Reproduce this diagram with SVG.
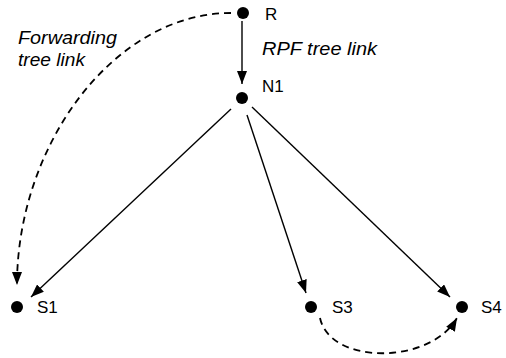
<svg xmlns="http://www.w3.org/2000/svg" width="506" height="358" viewBox="0 0 506 358">
  <style>
    .lbl { font-family: "Liberation Sans", Arial, sans-serif; font-size: 17px; fill: #000; }
    .it { font-style: italic; font-size: 18px; }
    .dot { fill: #000; }
    .link { fill: none; stroke: #000; stroke-width: 1.4; }
    .dash { stroke-dasharray: 7 5; stroke-width: 1.8; }
  </style>
  <defs>
    <marker id="arrow" viewBox="0 0 13 10" refX="13" refY="5" markerWidth="13" markerHeight="10" markerUnits="userSpaceOnUse" orient="auto">
      <path d="M0,0 L13,5 L0,10 Z" fill="#000"/>
    </marker>
  </defs>

  <g id="connectors">
    <line class="link" x1="242" y1="21" x2="242" y2="84" marker-end="url(#arrow)"/>
    <line class="link" x1="231" y1="109" x2="31" y2="297" marker-end="url(#arrow)"/>
    <line class="link" x1="247" y1="115" x2="306" y2="293" marker-end="url(#arrow)"/>
    <line class="link" x1="252" y1="107" x2="450" y2="297" marker-end="url(#arrow)"/>
    <path class="link dash" d="M231,13 C114,13 17,145 17,285" marker-end="url(#arrow)"/>
    <path class="link dash" d="M320,318 C330,365 430,365 457,318" marker-end="url(#arrow)"/>
  </g>

  <g id="node-R">
    <circle class="dot" cx="243" cy="13" r="6"/>
    <text class="lbl" x="265" y="20">R</text>
  </g>
  <g id="node-N1">
    <circle class="dot" cx="242" cy="98" r="6"/>
    <text class="lbl" x="262" y="92">N1</text>
  </g>
  <g id="node-S1">
    <circle class="dot" cx="17" cy="307" r="6"/>
    <text class="lbl" x="37" y="313">S1</text>
  </g>
  <g id="node-S3">
    <circle class="dot" cx="311" cy="307" r="6"/>
    <text class="lbl" x="332" y="313">S3</text>
  </g>
  <g id="node-S4">
    <circle class="dot" cx="462" cy="307" r="6"/>
    <text class="lbl" x="481" y="313">S4</text>
  </g>

  <g id="labels">
    <text class="lbl it" x="262" y="55" textLength="115" lengthAdjust="spacingAndGlyphs">RPF tree link</text>
    <text class="lbl it" x="18" y="44" textLength="99" lengthAdjust="spacingAndGlyphs">Forwarding</text>
    <text class="lbl it" x="18" y="66" textLength="67" lengthAdjust="spacingAndGlyphs">tree link</text>
  </g>
</svg>
